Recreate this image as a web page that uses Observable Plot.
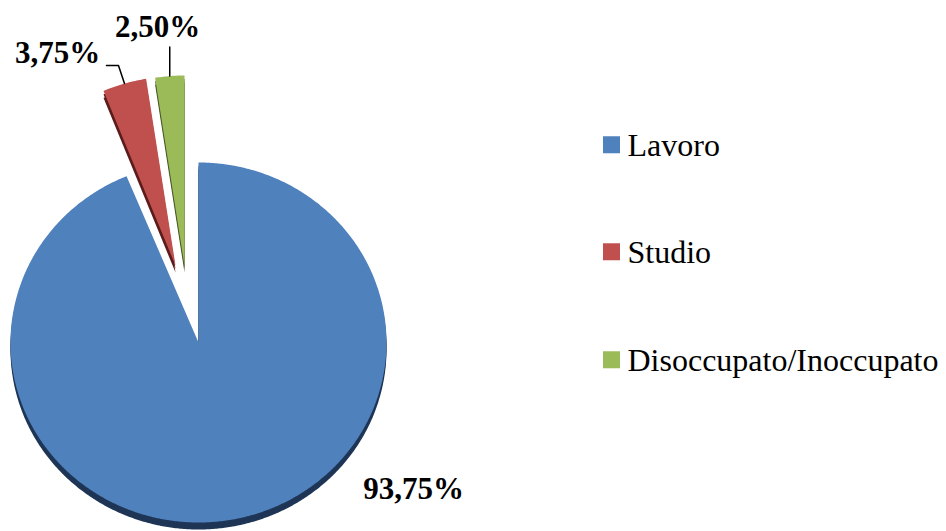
<!DOCTYPE html>
<html><head><meta charset="utf-8">
<script src="https://cdn.jsdelivr.net/npm/d3@7"></script>
<script src="https://cdn.jsdelivr.net/npm/@observablehq/plot@0.6"></script>
<style>body{margin:0;background:#fff}</style>
</head><body><div id="chart"></div>
<script>
// ---- data ----
const categories = ["Lavoro", "Studio", "Disoccupato/Inoccupato"];
const values = [93.75, 3.75, 2.50];
const valueLabels = ["93,75%", "3,75%", "2,50%"];

// ---- styles / layout ----
const topColors = ["#4F81BD", "#C0504D", "#9BBB59"];
const sideColors = ["#1F3556", "#5C1C1B", "#4A5A28"];
const W = 946, H = 531;
const center = [198, 342];
const radii = [[188, 180], [188, 189], [188, 190]];
const explode = [[0, 0], [-23, -77], [-14, -77]];
const depth = 7;
const labelFont = 31, legendFont = 32;
const labelPos = [[413, 498 - 0.32 * labelFont], [57, 62 - 0.32 * labelFont], [157, 36 - 0.32 * labelFont]];
const leaderOffsets = [[], [[0, 0], [-6, -18], [-18, -18]], [[0, 0], [0, -29]]];
const legendX = 603, legendSq = 17, legendTextX = 627;
const legendBaselines = [155, 262, 370];

// ---- geometry from values ----
const arcs = d3.pie().sort(null).value(d => d)(values);
const slicePts = [];
const leaders = [];
arcs.forEach((a, i) => {
  const [rx, ry] = radii[i];
  const cx = center[0] + explode[i][0], cy = center[1] + explode[i][1];
  const pt = t => [cx + rx * Math.sin(t), cy - ry * Math.cos(t)];
  slicePts.push({i, cat: categories[i], x: cx, y: cy});
  const n = Math.max(4, Math.ceil((a.endAngle - a.startAngle) / (Math.PI / 360)));
  for (let k = 0; k <= n; k++) {
    const t = a.startAngle + (a.endAngle - a.startAngle) * k / n;
    const [x, y] = pt(t);
    slicePts.push({i, cat: categories[i], x, y});
  }
  const mid = pt((a.startAngle + a.endAngle) / 2);
  leaderOffsets[i].forEach(([dx, dy]) => leaders.push({i, x: mid[0] + dx, y: mid[1] + dy}));
});
const labelRows = valueLabels.map((t, i) => ({text: t, x: labelPos[i][0], y: labelPos[i][1]}));
const legendRows = categories.map((c, i) => ({
  cat: c, i, y: legendBaselines[i] - 0.32 * legendFont
}));

const chart = Plot.plot({
  width: W, height: H,
  margin: 0,
  x: {domain: [0, W], range: [0, W], axis: null},
  y: {domain: [0, H], range: [0, H], axis: null},
  color: {type: "identity"},
  style: {background: "white", overflow: "visible", fontFamily: "Liberation Serif"},
  marks: [
    Plot.line(slicePts, {x: "x", y: "y", z: "cat", fill: d => sideColors[d.i], stroke: "none", curve: "linear-closed", dy: depth}),
    Plot.line(slicePts, {x: "x", y: "y", z: "cat", fill: d => sideColors[d.i], stroke: "none", curve: "linear-closed", dy: depth / 2}),
    Plot.line(slicePts, {x: "x", y: "y", z: "cat", fill: d => topColors[d.i], stroke: "none", curve: "linear-closed"}),
    Plot.line(leaders, {x: "x", y: "y", z: "i", stroke: "black", strokeWidth: 1.5, fill: "none"}),
    Plot.text(labelRows, {x: "x", y: "y", text: "text", fontFamily: "Liberation Serif", fontWeight: "bold", fontSize: labelFont, fill: "black"}),
    Plot.rect(legendRows, {x1: legendX, x2: legendX + legendSq, y1: d => d.y - legendSq / 2, y2: d => d.y + legendSq / 2, fill: d => topColors[d.i]}),
    Plot.text(legendRows, {x: legendTextX, y: "y", text: "cat", textAnchor: "start", fontFamily: "Liberation Serif", fontSize: legendFont, fill: "black"})
  ]
});
document.getElementById("chart").appendChild(chart);
</script>
</body></html>
